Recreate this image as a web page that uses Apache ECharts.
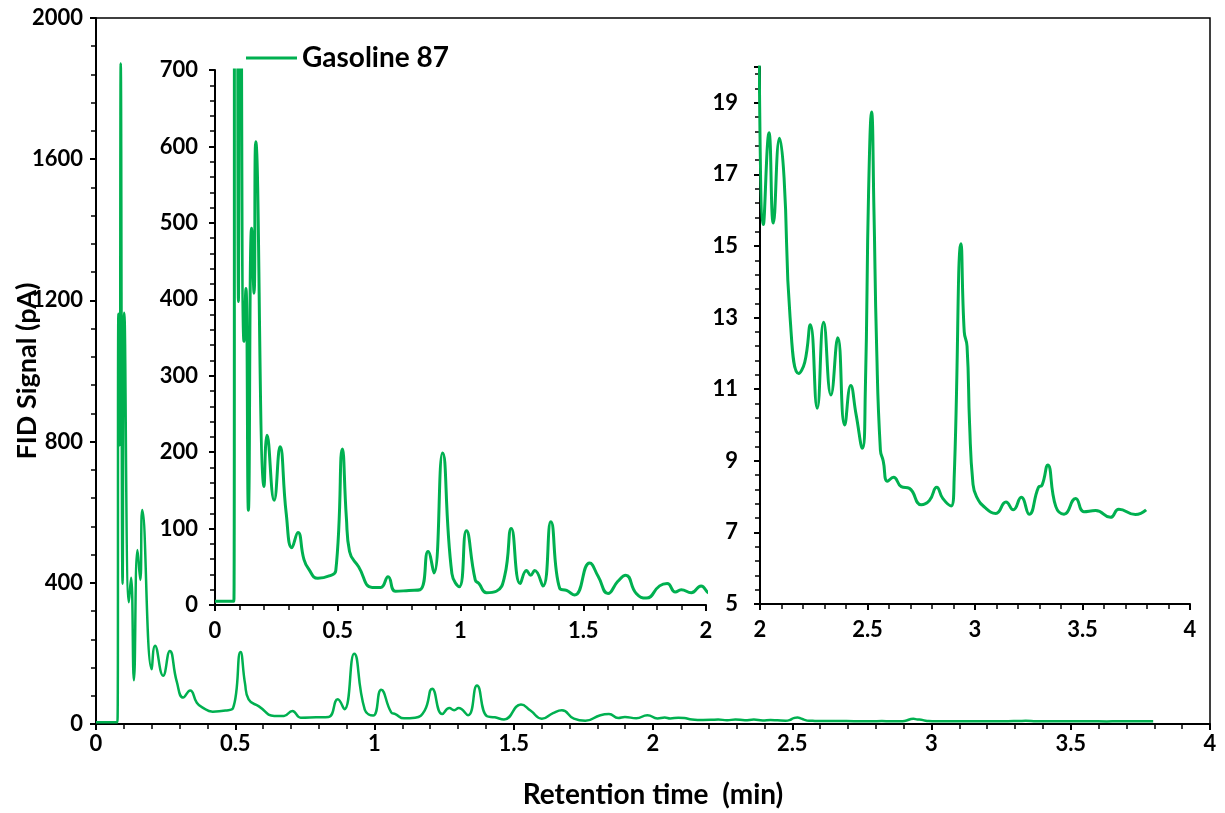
<!DOCTYPE html>
<html>
<head>
<meta charset="utf-8">
<title>Gasoline 87 FID chromatogram</title>
<script src="https://cdn.jsdelivr.net/npm/echarts@6/dist/echarts.min.js"></script>
<style>
  html, body { margin: 0; padding: 0; background: #fff; }
  #chart { width: 1225px; height: 813px; }
</style>
</head>
<body>
<div id="chart"></div>
<script>
// retention time (min) / FID signal (pA)
const earlyTime = [0, 0.077, 0.0805, 0.085, 0.0888, 0.0955, 0.1015, 0.118, 0.126, 0.136, 0.149, 0.159, 0.166,
  0.2, 0.212, 0.241, 0.265, 0.29, 0.313, 0.338, 0.362, 0.38, 0.419, 0.465, 0.492]
const earlySignal = [5, 5, 1162, 790, 1871, 397, 1165, 345, 414, 124, 493, 408, 606,
  155, 222, 137, 207, 120, 75, 95, 60, 48, 35, 38, 45]

const midTime = [0.519, 0.535, 0.548, 0.585, 0.64, 0.675, 0.705, 0.735, 0.79, 0.835, 0.868, 0.892, 0.927,
  0.965, 0.995, 1.024, 1.06, 1.075, 1.106, 1.146, 1.18, 1.207, 1.243, 1.269, 1.286, 1.302, 1.336, 1.368,
  1.404, 1.432, 1.465, 1.526, 1.56, 1.601, 1.641, 1.673, 1.716, 1.757, 1.811, 1.842, 1.875, 1.899, 1.94, 1.98]
const midSignal = [204, 115, 70, 50, 23, 23, 37, 18, 19, 20, 70, 42, 199,
  41, 24, 97, 33, 28, 16, 18, 38, 100, 28, 45, 39, 45, 25, 109,
  22, 19, 13, 55, 38, 15, 31, 39, 15, 9, 25, 28, 17, 20, 16, 25]

const lateTime = [2.016, 2.042, 2.062, 2.091, 2.112, 2.14, 2.18, 2.208, 2.234, 2.266, 2.296, 2.33, 2.362,
  2.394, 2.422, 2.447, 2.476, 2.49, 2.505, 2.519, 2.53, 2.542, 2.56, 2.573, 2.593, 2.621, 2.657, 2.695,
  2.75, 2.788, 2.822, 2.85, 2.889, 2.903, 2.935, 2.95, 2.963, 2.975, 2.99, 3.007, 3.051, 3.097, 3.144,
  3.178, 3.215, 3.252, 3.295, 3.312, 3.338, 3.376, 3.414, 3.468, 3.507, 3.561, 3.63, 3.669, 3.746, 3.796]
const lateSignal = [15.6, 18.16, 15.64, 18.01, 16.9, 13.0, 11.44, 11.75, 12.8, 10.47, 12.87, 10.84, 12.44,
  10.0, 11.1, 10.29, 9.35, 11.0, 16.5, 18.74, 16.0, 12.3, 9.3, 9.0, 8.43, 8.54, 8.28, 8.23,
  7.77, 7.89, 8.26, 7.95, 7.74, 8.5, 15.06, 12.6, 12.2, 10.0, 8.4, 8.0, 7.67, 7.53, 7.85,
  7.63, 7.98, 7.51, 8.26, 8.32, 8.88, 7.72, 7.51, 7.95, 7.58, 7.61, 7.42, 7.65, 7.5, 7.63]

const seriesName = 'Gasoline 87'

const times = earlyTime.concat(midTime, lateTime)
const signals = earlySignal.concat(midSignal, lateSignal)
const trace = times.map((t, i) => [t, signals[i]])

const green = '#00B050'
const tickFont = {
  color: '#000', fontFamily: 'Lato', fontWeight: 'bold', fontSize: 22,
  formatter: v => String(v)
}

function valueAxis(gridIndex, min, max, interval, margin, extra) {
  return Object.assign({
    type: 'value',
    gridIndex,
    min,
    max,
    interval,
    splitLine: { show: false },
    axisLine: { show: true, onZero: false, lineStyle: { color: '#000', width: 2 } },
    axisTick: { show: true, length: 6, lineStyle: { color: '#000', width: 2 } },
    minorTick: { show: true, splitNumber: 5, length: 5, lineStyle: { color: '#000', width: 1.5 } },
    axisLabel: Object.assign({ margin }, tickFont)
  }, extra || {})
}

const chart = echarts.init(document.getElementById('chart'))

const option = {
  backgroundColor: '#fff',
  animation: false,
  legend: {
    data: [seriesName],
    left: 241,
    top: 39,
    icon: 'rect',
    itemWidth: 51,
    itemHeight: 3,
    textStyle: { color: '#000', fontFamily: 'Lato', fontWeight: 'bold', fontSize: 28 }
  },
  grid: [
    { left: 96, right: 15, top: 18, bottom: 89, outerBoundsMode: 'none',
      show: true, borderColor: '#000', borderWidth: 1.5 },
    { left: 215, top: 70, width: 491, height: 535, outerBoundsMode: 'none' },
    { left: 760, top: 67, width: 430, height: 537, outerBoundsMode: 'none' }
  ],
  xAxis: [
    valueAxis(0, 0, 4, 0.5, 9, {
      name: 'Retention time  (min)',
      nameLocation: 'middle',
      nameGap: 57,
      nameMoveOverlap: false,
      nameTextStyle: { color: '#000', fontFamily: 'Lato', fontWeight: 'bold', fontSize: 28 }
    }),
    valueAxis(1, 0, 2, 0.5, 15),
    valueAxis(2, 2, 4, 0.5, 15)
  ],
  yAxis: [
    valueAxis(0, 0, 2000, 400, 13, {
      name: 'FID Signal (pA)',
      nameLocation: 'middle',
      nameGap: 55,
      nameMoveOverlap: false,
      nameTextStyle: { color: '#000', fontFamily: 'Lato', fontWeight: 'bold', fontSize: 27 }
    }),
    valueAxis(1, 0, 700, 100, 17),
    valueAxis(2, 5, 20, 2, 22, {
      axisLabel: Object.assign({ margin: 22, showMaxLabel: false }, tickFont)
    })
  ],
  series: [0, 1, 2].map(i => ({
    name: seriesName,
    type: 'line',
    xAxisIndex: i,
    yAxisIndex: i,
    data: trace,
    showSymbol: false,
    smooth: 0.5,
    clip: true,
    color: green,
    lineStyle: { color: green, width: i === 0 ? 2.5 : 3 }
  }))
}

chart.setOption(option)
</script>
</body>
</html>
